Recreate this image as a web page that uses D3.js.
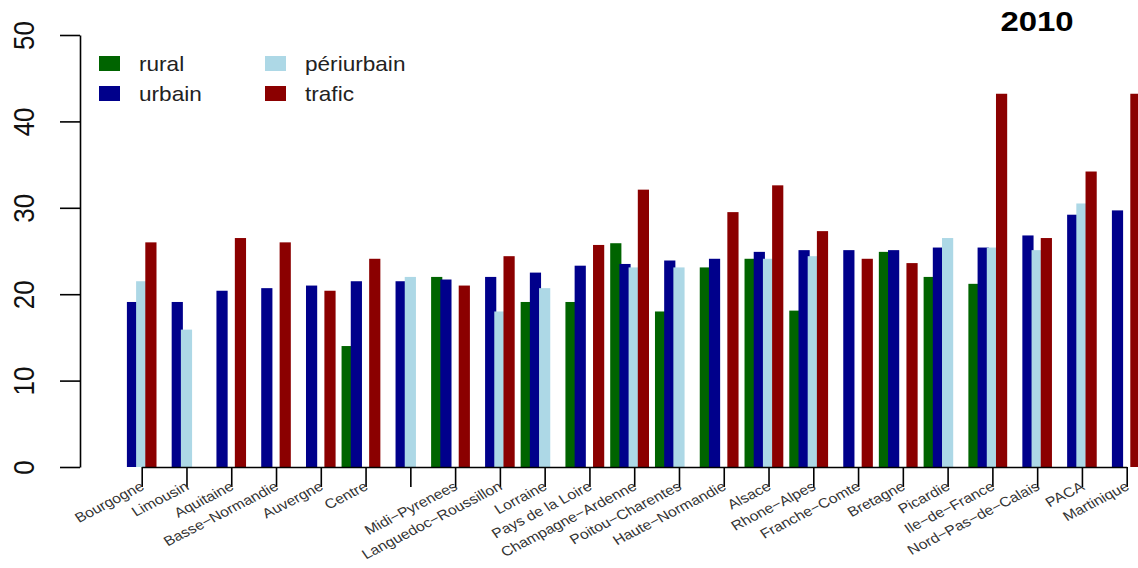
<!DOCTYPE html>
<html>
<head>
<meta charset="utf-8">
<script src="https://cdn.jsdelivr.net/npm/d3@7"></script>
<style>
  body { margin: 0; background: #fff; }
  svg { display: block; }
  text { font-family: "Liberation Sans", Arial, Helvetica, sans-serif; }
</style>
</head>
<body>
<svg id="chart" width="1138" height="568"></svg>
<script>
// Régions (one group each); the seventh group carries no label
const regions = ["Bourgogne", "Limousin", "Aquitaine", "Basse−Normandie", "Auvergne", "Centre", "",
  "Midi−Pyrenees", "Languedoc−Roussillon", "Lorraine", "Pays de la Loire", "Champagne−Ardenne",
  "Poitou−Charentes", "Haute−Normandie", "Alsace", "Rhone−Alpes", "Franche−Comte", "Bretagne",
  "Picardie", "Ile−de−France", "Nord−Pas−de−Calais", "PACA", "Martinique"];

// Mean concentration per station type (null = no station of that type)
const rural      = [null, null, null, null, null, 14.0, null, 22.0, null, 19.1, 19.1, 25.9, 18.0, 23.1, 24.1, 18.1, null, 24.9, 22.0, 21.2, null, null, null];
const urbain     = [19.1, 19.1, 20.4, 20.7, 21.0, 21.5, 21.5, 21.7, 22.0, 22.5, 23.3, 23.5, 23.9, 24.1, 24.9, 25.1, 25.1, 25.1, 25.4, 25.4, 26.8, 29.2, 29.7];
const periurbain = [21.5, 15.9, null, null, null, null, 22.0, null, 18.0, 20.7, null, 23.1, 23.1, null, 24.1, 24.4, null, null, 26.5, 25.4, 25.1, 30.5, null];
const trafic     = [26.0, null, 26.5, 26.0, 20.4, 24.1, null, 21.0, 24.4, null, 25.7, 32.1, null, 29.5, 32.6, 27.3, 24.1, 23.6, null, 43.2, 26.5, 34.2, 43.2];

const seriesNames = ["rural", "urbain", "périurbain", "trafic"];
const seriesValues = [rural, urbain, periurbain, trafic];
const seriesColors = ["#006400", "#00008B", "#ADD8E6", "#8B0000"];
const yTicks = [0, 10, 20, 30, 40, 50];
const title = "2010";

// text on this device is a little wider than tall
const stretch = 1.17;

const svg = d3.select("#chart");

const x = d3.scalePoint().domain(d3.range(regions.length)).range([141.7, 1126.7]);
const offset = d3.scalePoint().domain(seriesNames).range([-18.4, 9.2]);
const y = d3.scaleLinear().domain([0, 50]).range([467, 35]);
const barW = 11.2;

// bars, one series after another so later types sit on top
seriesNames.forEach((name, s) => {
  const rows = seriesValues[s].map((v, i) => ({ i, v })).filter(d => d.v !== null);
  svg.append("g")
    .selectAll("rect")
    .data(rows)
    .join("rect")
    .attr("x", d => x(d.i) + offset(name) - barW / 2)
    .attr("y", d => y(d.v))
    .attr("width", barW)
    .attr("height", d => y(0) - y(d.v))
    .attr("fill", seriesColors[s]);
});

// y axis
const yAxis = svg.append("g")
  .attr("transform", "translate(80,0)")
  .call(d3.axisLeft(y).tickValues(yTicks).tickSize(20).tickSizeOuter(0).tickFormat(d3.format("d")));
yAxis.selectAll("line, path").attr("stroke", "#000").attr("stroke-width", 1.6);
yAxis.selectAll("text")
  .attr("x", null).attr("dy", null)
  .attr("text-anchor", "middle")
  .attr("dominant-baseline", "central")
  .attr("transform", `translate(-56.5,0) scale(${stretch},1) rotate(-90)`)
  .attr("font-size", 26)
  .attr("fill", "#111");

// x axis
const xAxis = svg.append("g")
  .attr("transform", "translate(0,467)")
  .call(d3.axisBottom(x).tickSize(20).tickSizeOuter(0).tickFormat(i => regions[i]));
xAxis.selectAll("line, path").attr("stroke", "#000").attr("stroke-width", 1.6);
xAxis.selectAll("text")
  .attr("y", null).attr("dy", null)
  .attr("text-anchor", "end")
  .attr("transform", `translate(3,22) scale(${stretch},1) rotate(-31)`)
  .attr("font-size", 13.5)
  .attr("fill", "#333");

// legend
const legend = svg.append("g");
seriesNames.forEach((name, s) => {
  const col = Math.floor(s / 2), row = s % 2;
  const gx = 99 + col * 166, gy = 56 + row * 30;
  legend.append("rect").attr("x", gx).attr("y", gy).attr("width", 21).attr("height", 15).attr("fill", seriesColors[s]);
  legend.append("text")
    .attr("transform", `translate(${gx + 40},${gy + 15}) scale(1.13,1)`)
    .attr("font-size", 20).attr("fill", "#222").text(name);
});

// year
svg.append("text")
  .attr("transform", `translate(1037,31) scale(1.22,1)`)
  .attr("text-anchor", "middle")
  .attr("font-size", 27).attr("font-weight", "bold")
  .text(title);
</script>
</body>
</html>
